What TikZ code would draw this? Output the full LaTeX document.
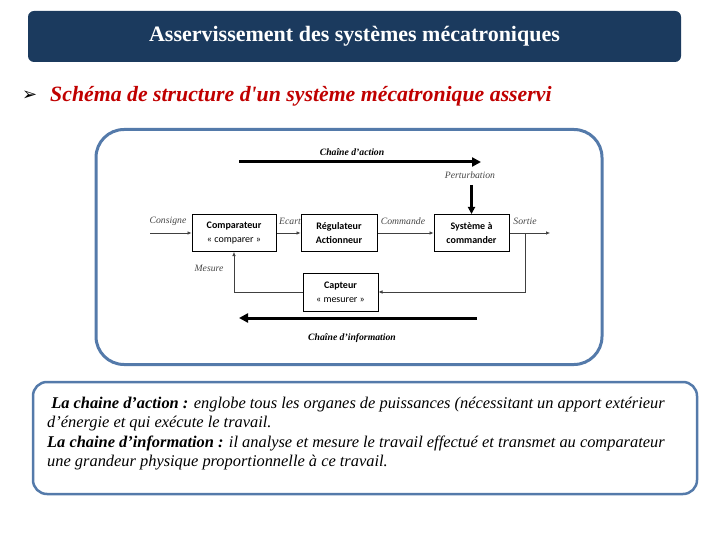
\documentclass[tikz,border=0pt]{standalone}
\usepackage{fontspec}
\setmainfont{Liberation Serif}
\newfontfamily\subfont[Ligatures=ResetAll]{Liberation Serif}
\newfontfamily\boxfont{Carlito}
\newfontfamily\symfont{DejaVu Sans}
\usetikzlibrary{arrows.meta}
\definecolor{navy}{RGB}{27,58,94}
\definecolor{frameblue}{RGB}{84,122,170}
\definecolor{titlered}{RGB}{192,0,0}
\definecolor{lblgrey}{RGB}{70,70,70}
\begin{document}
\begin{tikzpicture}[x=1pt,y=-1pt,
  blk/.style={draw,line width=1pt,inner sep=0pt,align=center,
    font=\boxfont\fontsize{10}{14}\selectfont},
  sig/.style={draw=black!75,line width=0.6pt,-{Latex[length=4pt,width=3.5pt]}},
  bigarrow/.style={line width=3pt,-{Triangle[length=9pt,width=9pt]}},
  lbl/.style={font=\itshape\fontsize{9.7}{11}\selectfont,text=lblgrey,inner sep=0pt},
  chain/.style={font=\bfseries\itshape\fontsize{9.7}{11}\selectfont,inner sep=0pt},
  frame/.style={draw=frameblue,line width=3pt,rounded corners=28pt}
]
\useasboundingbox (0,0) rectangle (720,540);

% title bar
\node[fill=navy,rounded corners=6pt,minimum width=653pt,minimum height=51pt,inner sep=0pt,
  text=white,font=\bfseries\fontsize{22}{24}\selectfont] (title) at (354.5,36.5)
  {Asservissement des systèmes mécatroniques};

% subtitle
\node[anchor=west,inner sep=0pt,font=\symfont\fontsize{18}{19}\selectfont] (bullet) at (22,96) {➢};
\node[anchor=west,inner sep=0pt,text=titlered,font=\subfont\bfseries\itshape\fontsize{21.8}{24}\selectfont] (subtitle) at (50,96)
  {Schéma de structure d'un système mécatronique asservi};

% diagram frame
\node[frame,minimum width=506pt,minimum height=235pt,inner sep=0pt] (frame) at (349,247) {};

% blocks
\node[blk,minimum width=84pt,minimum height=37pt] (comp) at (234,233)
  {\textbf{Comparateur}\\« comparer »};
\node[blk,minimum width=76pt,minimum height=37pt] (reg) at (339,233)
  {\textbf{Régulateur}\\\textbf{Actionneur}};
\node[blk,minimum width=75pt,minimum height=37pt] (sys) at (471.5,233)
  {\textbf{Système à}\\\textbf{commander}};
\node[blk,minimum width=75pt,minimum height=38pt] (capt) at (340.5,292)
  {\textbf{Capteur}\\« mesurer »};

% signals
\coordinate (cin) at (150,233);
\coordinate (cout) at (550,233);
\coordinate (br) at (525,233);
\draw[sig] (cin) -- (comp.west);
\draw[sig] (comp.east) -- (reg.west);
\draw[sig] (reg.east) -- (sys.west);
\draw[sig] (sys.east) -- (cout);
\draw[sig] (br) |- (capt.east);
\draw[sig] (capt.west) -| (comp.south);

% signal labels
\node[lbl] (lcons) at (168,221) {Consigne};
\node[lbl] (lecart) at (290,221) {Ecart};
\node[lbl] (lcom) at (403,221) {Commande};
\node[lbl] (lsort) at (525,221) {Sortie};
\node[lbl] (lmes) at (209,268) {Mesure};
\node[lbl] (lpert) at (470,175) {Perturbation};
\coordinate (pt) at (471.5,185);
\draw[line width=2.5pt,-{Triangle[length=7pt,width=7pt]}] (pt) -- (sys.north);

% chains
\node[chain] (lact) at (352,152) {Chaîne d’action};
\coordinate (a1) at (239,162);
\coordinate (a2) at (481,162);
\draw[bigarrow] (a1) -- (a2);
\coordinate (i1) at (477,318);
\coordinate (i2) at (239,318);
\draw[bigarrow] (i1) -- (i2);
\node[chain] (linf) at (352,338) {Chaîne d’information};

% text box
\node[draw=frameblue,line width=2.5pt,rounded corners=14pt,minimum width=664pt,minimum height=112pt,inner sep=0pt] (tbox) at (365,438) {};
\node[anchor=north west,inner sep=0pt,align=left,font=\itshape\fontsize{16.4}{19.3}\selectfont] (ttext) at (47,397)
  {\ \textbf{La chaine d’action :} englobe tous les organes de puissances (nécessitant un apport extérieur\\
   d’énergie et qui exécute le travail.\\
   \textbf{La chaine d’information :} il analyse et mesure le travail effectué et transmet au comparateur\\
   une grandeur physique proportionnelle à ce travail.};
\end{tikzpicture}
\end{document}
